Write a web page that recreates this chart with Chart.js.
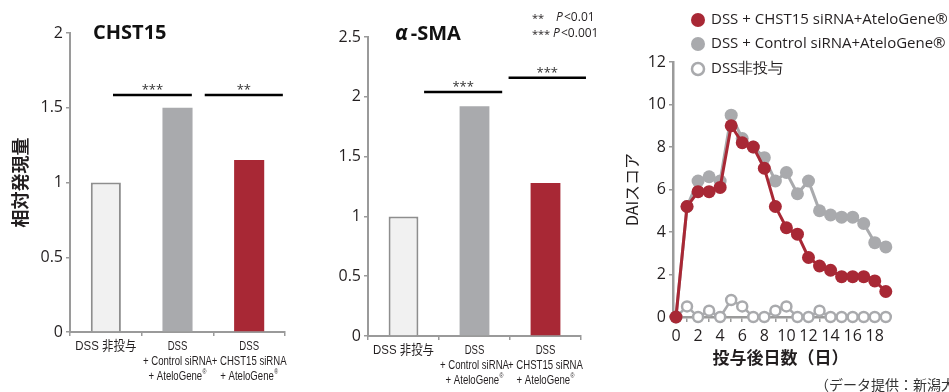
<!DOCTYPE html>
<html>
<head>
<meta charset="utf-8">
<script src="https://cdn.jsdelivr.net/npm/chart.js@4.4.1/dist/chart.umd.min.js"></script>
<style>
  body { margin: 0; background: #fff; width: 949px; height: 392px; overflow: hidden; position: relative; }
  .box { position: absolute; top: 0; height: 392px; }
</style>
</head>
<body>
<div class="box" style="left:0;width:300px"><canvas id="chst15Chart"></canvas></div>
<div class="box" style="left:300px;width:320px"><canvas id="smaChart"></canvas></div>
<div class="box" style="left:620px;width:329px"><canvas id="daiChart"></canvas></div>
<script>
// bar panels
const groupLabels = [
    ['DSS 非投与'],
    ['DSS', '+ Control siRNA', '+ AteloGene®'],
    ['DSS', '+ CHST15 siRNA', '+ AteloGene®']
];
const chst15Values = [1.0, 1.5, 1.15];
const smaValues = [1.0, 1.92, 1.28];
const chst15Marks = ['***', '**'];
const chst15Levels = [1.585, 1.585];
const smaMarks = ['***', '***'];
const smaLevels = [2.04, 2.16];

// DAI score time course
const days = [0, 1, 2, 3, 4, 5, 6, 7, 8, 9, 10, 11, 12, 13, 14, 15, 16, 17, 18, 19];
const daiChst15 = [0, 5.2, 5.9, 5.9, 6.1, 9.0, 8.2, 8.0, 7.0, 5.2, 4.2, 3.9, 2.8, 2.4, 2.2, 1.9, 1.9, 1.9, 1.7, 1.2];
const daiControl = [0, 5.2, 6.4, 6.6, 6.4, 9.5, 8.4, 8.0, 7.5, 6.4, 6.8, 5.8, 6.4, 5.0, 4.8, 4.7, 4.7, 4.4, 3.5, 3.3];
const daiNoDss = [0, 0.5, 0, 0.3, 0, 0.8, 0.5, 0, 0, 0.3, 0.5, 0, 0, 0.3, 0, 0, 0, 0, 0, 0];
const seriesNames = ['DSS + CHST15 siRNA+AteloGene®', 'DSS + Control siRNA+AteloGene®', 'DSS非投与'];

const RED = '#a82835';
const GREY = '#a9aaad';
const AXIS = '#9a9a9a';
const TEXT = '#231f20';
const NUM_FONT = '"Open Sans", "Noto Sans", sans-serif';
const JP_FONT = '"Noto Sans CJK JP", sans-serif';
const LABEL_FONT = '"Liberation Sans", "Noto Sans CJK JP", sans-serif';

Chart.defaults.animation = false;
Chart.defaults.color = TEXT;

// draws category labels squeezed like a condensed face
function drawCategoryLabels(chart) {
    const ctx = chart.ctx;
    const xs = chart.scales.x;
    chart.data.labels.forEach((lines, i) => {
        const cx = xs.getPixelForValue(i);
        lines.forEach((line, j) => {
            const y = xs.top + 14 + j * 15;
            const cjk = /[\u3000-\u9fff]/.test(line);
            const size = cjk ? 13 : 13.5;
            const sx = cjk ? 0.88 : 0.71;
            let main = line, sup = '';
            if (line.endsWith('®')) { main = line.slice(0, -1); sup = '®'; }
            ctx.font = size + 'px ' + LABEL_FONT;
            const w1 = ctx.measureText(main).width;
            ctx.font = '7.5px ' + LABEL_FONT;
            const w2 = sup ? ctx.measureText(sup).width + 0.5 : 0;
            ctx.save();
            ctx.translate(cx, y);
            ctx.scale(sx, 1);
            ctx.fillStyle = TEXT;
            ctx.textBaseline = 'middle';
            ctx.textAlign = 'left';
            const x0 = -(w1 + w2) / 2;
            ctx.font = size + 'px ' + LABEL_FONT;
            ctx.fillText(main, x0, 0);
            if (sup) {
                ctx.font = '7.5px ' + LABEL_FONT;
                ctx.fillText(sup, x0 + w1 + 0.5, -4);
            }
            ctx.restore();
        });
    });
}

// titles, significance bars and legend drawn on top of the charts
const notesPlugin = {
    id: 'notes',
    afterDraw(chart, args, opts) {
        const ctx = chart.ctx;
        const area = chart.chartArea;
        ctx.save();
        if (opts.categoryLabels) drawCategoryLabels(chart);
        if (opts.title) {
            ctx.fillStyle = '#111';
            ctx.textBaseline = 'middle';
            ctx.textAlign = 'left';
            let tx = area.left + opts.title.dx;
            opts.title.parts.forEach(p => {
                ctx.font = p.font;
                ctx.fillText(p.text, tx, area.top + opts.title.dy);
                tx += ctx.measureText(p.text).width + (p.gap || 0);
            });
        }
        (opts.brackets || []).forEach(b => {
            const xs = chart.scales.x, ys = chart.scales.y;
            const x1 = xs.getPixelForValue(b.from), x2 = xs.getPixelForValue(b.to);
            const yy = ys.getPixelForValue(b.level);
            ctx.strokeStyle = '#000';
            ctx.lineWidth = 2.5;
            ctx.beginPath();
            ctx.moveTo(x1, yy);
            ctx.lineTo(x2, yy);
            ctx.stroke();
            ctx.fillStyle = '#333';
            ctx.font = '13px ' + NUM_FONT;
            ctx.textAlign = 'center';
            ctx.textBaseline = 'alphabetic';
            ctx.fillText(b.mark, (x1 + x2) / 2, yy - 1);
        });
        (opts.texts || []).forEach(t => {
            ctx.fillStyle = t.color || TEXT;
            ctx.font = t.font;
            ctx.textAlign = 'left';
            ctx.textBaseline = 'middle';
            ctx.fillText(t.text, t.x, t.y);
        });
        if (opts.legend) {
            const lg = opts.legend;
            let cy = lg.y;
            chart.data.datasets.forEach((ds, i) => {
                cy += lg.step[i];
                const open = ds.pointBackgroundColor === '#fff';
                ctx.beginPath();
                ctx.arc(lg.x, cy, open ? 6 : 7, 0, Math.PI * 2);
                ctx.fillStyle = ds.pointBackgroundColor;
                ctx.fill();
                if (open) {
                    ctx.lineWidth = 2.5;
                    ctx.strokeStyle = ds.pointBorderColor;
                    ctx.stroke();
                }
                ctx.fillStyle = TEXT;
                ctx.font = lg.font;
                ctx.textAlign = 'left';
                ctx.textBaseline = 'middle';
                ctx.fillText(ds.label, lg.x + 13, cy);
            });
        }
        ctx.restore();
    }
};

function barAxes(max, yWidth, xHeight, yTitle) {
    return {
        x: {
            afterFit: s => { s.height = xHeight; },
            border: { color: AXIS, width: 2 },
            grid: { drawOnChartArea: false, color: AXIS, tickLength: 4, lineWidth: 1.5 },
            ticks: { display: false, autoSkip: false }
        },
        y: {
            min: 0, max: max,
            afterFit: s => { s.width = yWidth; },
            border: { color: AXIS, width: 2 },
            grid: { drawOnChartArea: false, color: AXIS, tickLength: 4, lineWidth: 1.5 },
            ticks: { stepSize: 0.5, font: { family: NUM_FONT, size: 16 }, padding: 3, callback: v => String(v) },
            title: yTitle ? { display: true, text: yTitle, font: { family: JP_FONT, size: 18, weight: 'bold' }, padding: { top: 9, bottom: 0 } } : { display: false }
        }
    };
}

function barDataset(values) {
    return {
        data: values,
        backgroundColor: ['#f1f1f1', GREY, RED],
        borderColor: ['#8e8e8e', GREY, RED],
        borderWidth: [2, 0, 0],
        barPercentage: 0.42,
        categoryPercentage: 1
    };
}

new Chart(document.getElementById('chst15Chart'), {
    type: 'bar',
    data: { labels: groupLabels, datasets: [barDataset(chst15Values)] },
    options: {
        responsive: true,
        maintainAspectRatio: false,
        layout: { padding: { left: 0, right: 15, top: 33, bottom: 0 } },
        scales: barAxes(2, 70, 60, '相対発現量'),
        plugins: {
            legend: { display: false },
            tooltip: { enabled: false },
            notes: {
                categoryLabels: true,
                title: { dx: 23, dy: 0, parts: [{ text: 'CHST15', font: 'bold 20px ' + NUM_FONT }] },
                brackets: [
                    { from: 0.1, to: 1.2, level: chst15Levels[0], mark: chst15Marks[0] },
                    { from: 1.38, to: 2.47, level: chst15Levels[1], mark: chst15Marks[1] }
                ]
            }
        }
    },
    plugins: [notesPlugin]
});

new Chart(document.getElementById('smaChart'), {
    type: 'bar',
    data: { labels: groupLabels, datasets: [barDataset(smaValues)] },
    options: {
        responsive: true,
        maintainAspectRatio: false,
        layout: { padding: { left: 0, right: 39, top: 37, bottom: 0 } },
        scales: barAxes(2.5, 68, 56, null),
        plugins: {
            legend: { display: false },
            tooltip: { enabled: false },
            notes: {
                categoryLabels: true,
                title: {
                    dx: 27, dy: -3, parts: [
                        { text: 'α', font: 'italic bold 21px ' + NUM_FONT, gap: 3 },
                        { text: '-SMA', font: 'bold 20px ' + NUM_FONT }
                    ]
                },
                brackets: [
                    { from: 0.29, to: 1.39, level: smaLevels[0], mark: smaMarks[0] },
                    { from: 1.48, to: 2.57, level: smaLevels[1], mark: smaMarks[1] }
                ],
                texts: [
                    { text: '**', x: 232, y: 19, font: '11px ' + NUM_FONT },
                    { text: 'P', x: 256, y: 18, font: 'italic 12px ' + NUM_FONT },
                    { text: '<0.01', x: 264, y: 18, font: '12px ' + NUM_FONT },
                    { text: '***', x: 232, y: 35, font: '11px ' + NUM_FONT },
                    { text: 'P', x: 253, y: 34, font: 'italic 12px ' + NUM_FONT },
                    { text: '<0.001', x: 261, y: 34, font: '12px ' + NUM_FONT }
                ]
            }
        }
    },
    plugins: [notesPlugin]
});

function toPoints(values) {
    return days.map((d, i) => ({ x: d, y: values[i] }));
}

new Chart(document.getElementById('daiChart'), {
    type: 'line',
    data: {
        datasets: [
            {
                label: seriesNames[0], data: toPoints(daiChst15),
                borderColor: RED, borderWidth: 3, pointBackgroundColor: RED, pointBorderColor: RED,
                pointRadius: 6.5, pointBorderWidth: 0, clip: false
            },
            {
                label: seriesNames[1], data: toPoints(daiControl),
                borderColor: GREY, borderWidth: 3, pointBackgroundColor: GREY, pointBorderColor: GREY,
                pointRadius: 6.5, pointBorderWidth: 0, clip: false
            },
            {
                label: seriesNames[2], data: toPoints(daiNoDss),
                borderColor: GREY, borderWidth: 2.5, pointBackgroundColor: '#fff', pointBorderColor: GREY,
                pointRadius: 5, pointBorderWidth: 2.5, clip: false
            }
        ]
    },
    options: {
        responsive: true,
        maintainAspectRatio: false,
        layout: { padding: { left: 0, right: 61, top: 62, bottom: 0 } },
        scales: {
            x: {
                type: 'linear', min: -0.27, max: 19.2,
                afterFit: s => { s.height = 75; },
                border: { color: AXIS, width: 2.5 },
                grid: { drawOnChartArea: false, color: AXIS, tickLength: 5, lineWidth: 1.5 },
                ticks: {
                    stepSize: 1, includeBounds: false, autoSkip: false, maxRotation: 0,
                    font: { family: NUM_FONT, size: 16 }, padding: 5,
                    callback: v => (v % 2 === 0 ? v : '')
                },
                title: { display: true, text: '投与後日数（日）', font: { family: JP_FONT, size: 17, weight: 'bold' }, padding: { top: 0, bottom: 24 } }
            },
            y: {
                min: 0, max: 12,
                afterFit: s => { s.width = 53; },
                border: { color: AXIS, width: 2.5 },
                grid: { drawOnChartArea: false, color: AXIS, tickLength: 4, lineWidth: 1.5 },
                ticks: { stepSize: 2, font: { family: NUM_FONT, size: 16 }, padding: 3 },
                title: { display: true, text: 'DAIスコア', font: { family: JP_FONT, size: 16 }, padding: { top: 2, bottom: 0 } }
            }
        },
        plugins: {
            legend: { display: false },
            tooltip: { enabled: false },
            notes: {
                legend: { x: 78, y: 20, step: [0, 24, 25], font: '15px ' + NUM_FONT },
                texts: [
                    { text: '（データ提供：新潟大学）', x: 195, y: 385, font: '14px ' + JP_FONT, color: '#333' }
                ]
            }
        }
    },
    plugins: [notesPlugin]
});
</script>
</body>
</html>
